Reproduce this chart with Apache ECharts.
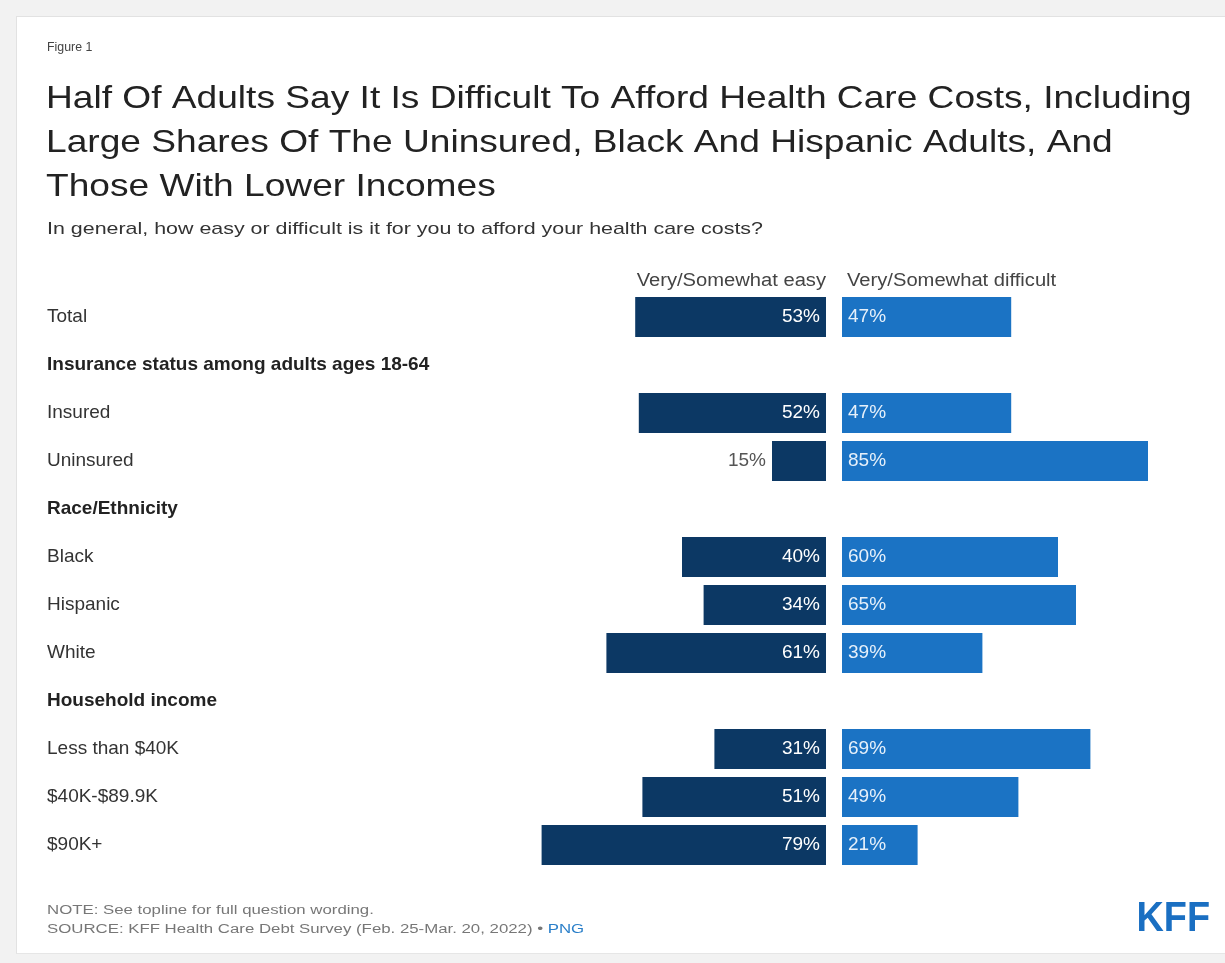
<!DOCTYPE html>
<html>
<head>
<meta charset="utf-8">
<script src="https://cdn.jsdelivr.net/npm/echarts@6/dist/echarts.min.js"></script>
<style>
  html, body { margin: 0; padding: 0; background: #f2f2f2; }
  #card { position: absolute; left: 16px; top: 16px; width: 1209px; height: 936px;
          background: #ffffff; border-left: 1px solid #e2e2e2; border-top: 1px solid #e2e2e2;
          border-bottom: 1px solid #e6e6e6; }
  #chart { position: absolute; left: 0; top: 0; width: 1225px; height: 963px; }
</style>
</head>
<body>
<div id="card"></div>
<div id="chart"></div>
<script>
// Survey rows; group headers carry no values
const categories = [
  'Total',
  'Insurance status among adults ages 18-64',
  'Insured',
  'Uninsured',
  'Race/Ethnicity',
  'Black',
  'Hispanic',
  'White',
  'Household income',
  'Less than $40K',
  '$40K-$89.9K',
  '$90K+'
];
const headerRows = ['Insurance status among adults ages 18-64', 'Race/Ethnicity', 'Household income'];
const easyValues = [53, null, 52, 15, null, 40, 34, 61, null, 31, 51, 79];
const difficultValues = [47, null, 47, 85, null, 60, 65, 39, null, 69, 49, 21];
const seriesNames = ['Very/Somewhat easy', 'Very/Somewhat difficult'];

const FONT = '"Liberation Sans", Arial, sans-serif';
const DARK = '#0c3864';
const LIGHT = '#1b73c4';

const chart = echarts.init(document.getElementById('chart'), null, { renderer: 'canvas' });

// Short bars get their label outside the bar
const easyData = easyValues.map(v => {
  if (v === null) return null;
  if (v < 20) {
    return { value: v, label: { position: 'left', color: '#555', distance: 6 } };
  }
  return v;
});

// Plain text block helper; scaleX widens the face a little
function txt(text, x, y, size, color, opts) {
  opts = opts || {};
  return {
    type: 'text', x: x, y: y, scaleX: opts.scaleX || 1, silent: true,
    style: {
      text: text, fill: color,
      font: (opts.weight || 'normal') + ' ' + size + 'px ' + (opts.family || FONT),
      textAlign: opts.align || 'left', textVerticalAlign: 'middle',
      lineHeight: opts.lineHeight, rich: opts.rich
    }
  };
}

const option = {
  animation: false,
  textStyle: { fontFamily: FONT },
  grid: [
    { left: 466, right: 399, top: 293, height: 576 },
    { left: 842, right: 23, top: 293, height: 576 }
  ],
  xAxis: [
    { gridIndex: 0, type: 'value', min: 0, max: 100, inverse: true, show: false },
    { gridIndex: 1, type: 'value', min: 0, max: 100, show: false }
  ],
  yAxis: [
    { gridIndex: 0, type: 'category', data: categories, inverse: true,
      axisLine: { show: false }, axisTick: { show: false }, splitLine: { show: false },
      axisLabel: {
        align: 'left', margin: 419, fontFamily: FONT, fontSize: 19, color: '#333',
        formatter: v => headerRows.includes(v) ? '{h|' + v + '}' : v,
        rich: { h: { fontFamily: FONT, fontSize: 19, fontWeight: 'bold', color: '#222' } }
      } },
    { gridIndex: 1, type: 'category', data: categories, inverse: true, show: false }
  ],
  series: [
    { name: seriesNames[0], type: 'bar', xAxisIndex: 0, yAxisIndex: 0,
      data: easyData, barCategoryGap: '17%', itemStyle: { color: DARK },
      label: { show: true, position: 'insideRight', distance: 6, formatter: '{c}%',
               fontFamily: FONT, fontSize: 19, color: '#ffffff' } },
    { name: seriesNames[1], type: 'bar', xAxisIndex: 1, yAxisIndex: 1,
      data: difficultValues, barCategoryGap: '17%', itemStyle: { color: LIGHT },
      label: { show: true, position: 'insideLeft', distance: 6, formatter: '{c}%',
               fontFamily: FONT, fontSize: 19, color: '#e6f0fa' } }
  ],
  graphic: [
    txt('Figure 1', 47, 47, 13, '#444', { scaleX: 0.95 }),
    txt('Half Of Adults Say It Is Difficult To Afford Health Care Costs, Including\nLarge Shares Of The Uninsured, Black And Hispanic Adults, And\nThose With Lower Incomes',
        46, 143, 32, '#222', { scaleX: 1.16, lineHeight: 44 }),
    txt('In general, how easy or difficult is it for you to afford your health care costs?',
        47, 229, 17, '#333', { scaleX: 1.26 }),
    txt(seriesNames[0], 826, 281, 18, '#444', { align: 'right', scaleX: 1.12 }),
    txt(seriesNames[1], 847, 281, 18, '#444', { scaleX: 1.12 }),
    txt('NOTE: See topline for full question wording.', 47, 911, 12, '#777', { scaleX: 1.4 }),
    txt('{s|SOURCE: KFF Health Care Debt Survey (Feb. 25-Mar. 20, 2022) • }{p|PNG}', 47, 930, 12, '#777', {
      scaleX: 1.4,
      rich: {
        s: { fontFamily: FONT, fontSize: 12, fill: '#777' },
        p: { fontFamily: FONT, fontSize: 12, fill: '#2a7fc9' }
      }
    }),
    txt('KFF', 1210, 919, 43, '#1a6fc2', { align: 'right', weight: 'bold', scaleX: 0.88 })
  ]
};

chart.setOption(option);
</script>
</body>
</html>
